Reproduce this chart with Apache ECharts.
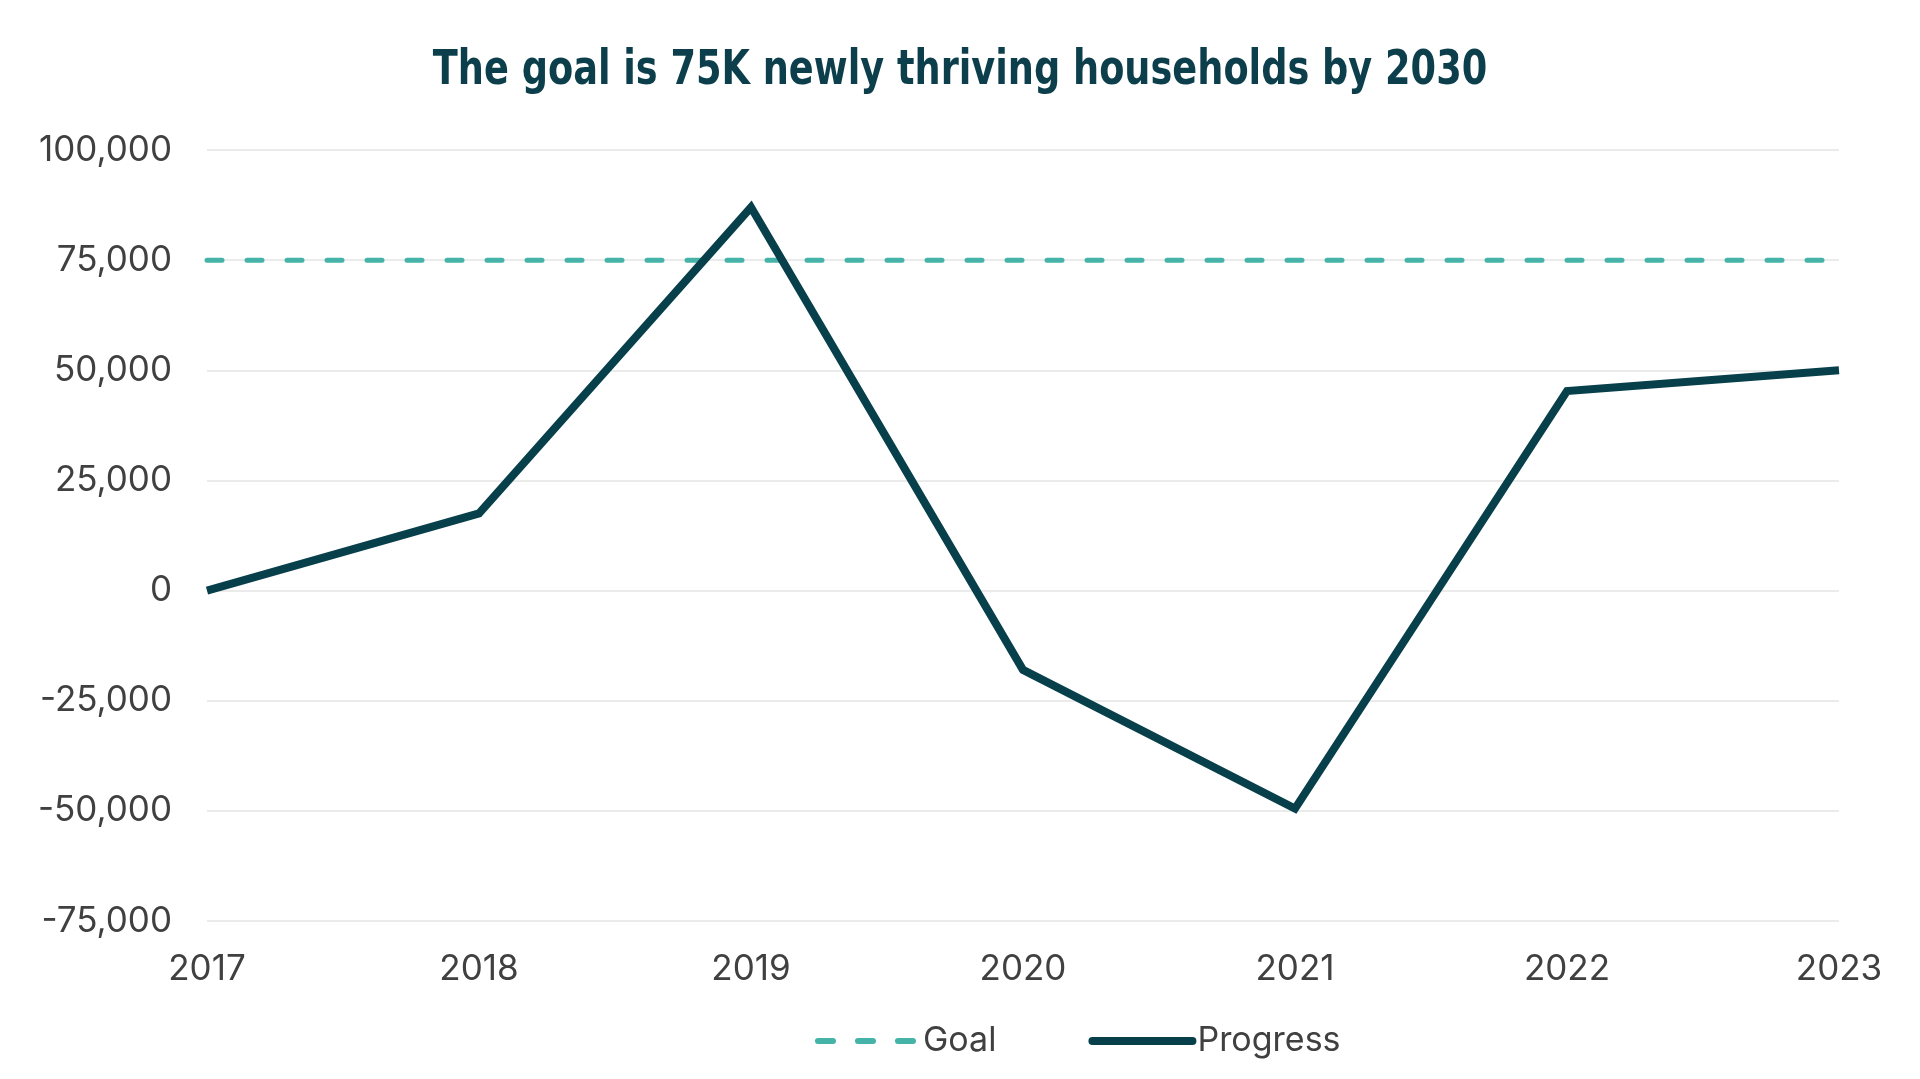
<!DOCTYPE html>
<html>
<head>
<meta charset="utf-8">
<script src="https://cdn.jsdelivr.net/npm/echarts@6/dist/echarts.min.js"></script>
<style>
html,body{margin:0;padding:0;background:#fff;}
#chart{width:1920px;height:1079px;}
</style>
</head>
<body>
<div id="chart"></div>
<script>
const years = ['2017','2018','2019','2020','2021','2022','2023'];
const goalValues = [75000,75000,75000,75000,75000,75000,75000];
const progressValues = [0,17500,87000,-18000,-49500,45300,50000];
const yTicks = {min:-75000, max:100000, interval:25000};
const titleText = 'The goal is 75K newly thriving households by 2030';

const goalColor = '#45b3a8';
const progressColor = '#073f4b';
const chart = echarts.init(document.getElementById('chart'), null, {renderer:'canvas'});
const labelFont = "Inter, 'Noto Sans', sans-serif";
chart.setOption({
  animation:false,
  backgroundColor:'#ffffff',
  graphic:[{
    type:'text',
    x:960,
    y:72,
    scaleX:0.85,
    style:{
      text:titleText,
      align:'center',
      verticalAlign:'middle',
      fontFamily:"'DejaVu Sans Condensed', 'Liberation Sans Narrow', Lato, sans-serif",
      fontWeight:'bold',
      fontSize:48,
      fill:'#0c3f4b'
    }
  }],
  legend:{
    left:810,
    top:1019,
    itemWidth:100,
    itemHeight:10,
    itemGap:92,
    textStyle:{fontFamily:labelFont,fontSize:34,color:'#404040'},
    data:[
      {name:'Goal', itemStyle:{opacity:0}, lineStyle:{color:goalColor,width:6,type:[15,25],cap:'round'}},
      {name:'Progress', itemStyle:{opacity:0}, lineStyle:{color:progressColor,width:8,cap:'round'}}
    ]
  },
  grid:{left:207,right:81,top:150,bottom:158,containLabel:false},
  xAxis:{
    type:'category',
    data:years,
    boundaryGap:false,
    axisLine:{show:false},
    axisTick:{show:false},
    splitLine:{show:false},
    axisLabel:{margin:31,fontFamily:labelFont,fontSize:35,color:'#404040'}
  },
  yAxis:{
    type:'value',
    min:yTicks.min,
    max:yTicks.max,
    interval:yTicks.interval,
    axisLine:{show:false},
    axisTick:{show:false},
    splitLine:{show:true,lineStyle:{color:'#ebebeb',width:2}},
    axisLabel:{
      margin:35,
      fontFamily:labelFont,
      fontSize:35,
      color:'#404040',
      formatter:function(v){return v.toLocaleString('en-US');}
    }
  },
  series:[
    {
      name:'Goal',
      type:'line',
      data:goalValues,
      symbol:'none',
      silent:true,
      lineStyle:{color:goalColor,width:5,type:[15,25],cap:'round'},
      itemStyle:{color:goalColor}
    },
    {
      name:'Progress',
      type:'line',
      data:progressValues,
      symbol:'none',
      silent:true,
      lineStyle:{color:progressColor,width:8,join:'miter'},
      itemStyle:{color:progressColor}
    }
  ]
});
</script>
</body>
</html>
